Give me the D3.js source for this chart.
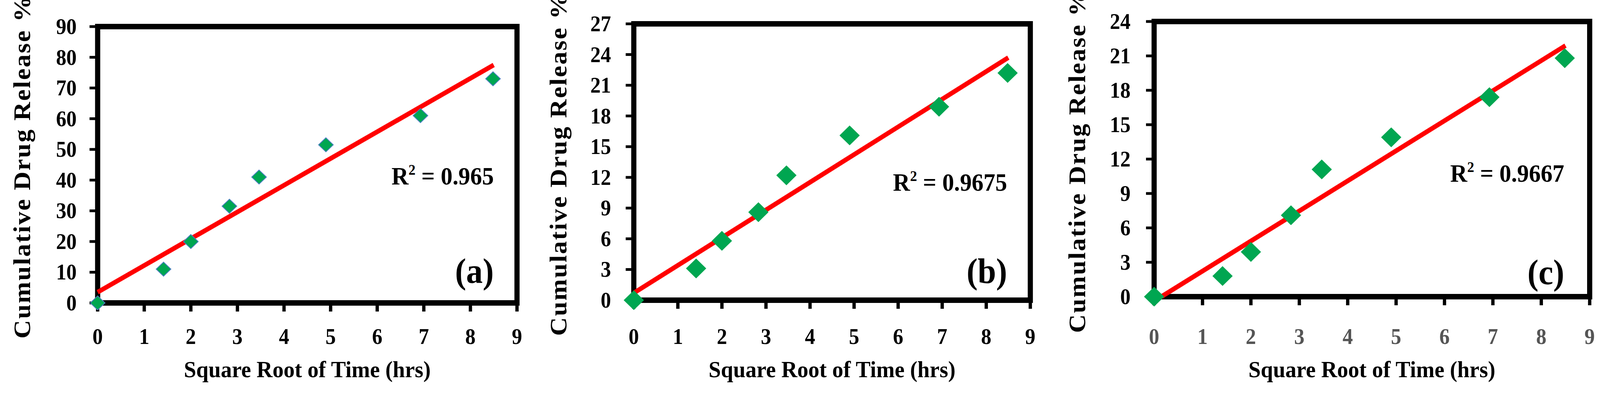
<!DOCTYPE html>
<html><head><meta charset="utf-8">
<script src="https://cdn.jsdelivr.net/npm/d3@7/dist/d3.min.js"></script>
<style>html,body{margin:0;background:#fff;overflow:hidden}svg{display:block;width:100vw;height:100vh}text{font-family:"Liberation Serif","DejaVu Serif",serif;font-weight:bold}</style>
</head><body><svg id="c" viewBox="0 0 4342 1008" preserveAspectRatio="none"></svg>
<script>
const xTicks = [0,1,2,3,4,5,6,7,8,9];
const xValues = [0,1.414,2,2.828,3.464,4.899,6.928,8.485];
const yA = [0,11,20,31.5,41,51.5,61,73];
const yB = [0,3.1,5.8,8.6,12.2,16.1,18.9,22.2];
const yC = [0,1.8,3.9,7.1,11.1,13.9,17.4,20.8];
const fitA = [[0,3.5],[8.5,77.5]];
const fitB = [[0,0.7],[8.5,23.7]];
const fitC = [[0.15,0],[8.5,21.9]];
const ticksA = [0,10,20,30,40,50,60,70,80,90];
const ticksB = [0,3,6,9,12,15,18,21,24,27];
const ticksC = [0,3,6,9,12,15,18,21,24];
const r2 = ["0.965","0.9675","0.9667"];
const tags = ["(a)","(b)","(c)"];

const panels = [
 {L:265,R:1403,T:68,B:775,ymax:90,yt:ticksA,ys:yA,fit:fitA,lab:208,tit:60,r2x:1340,r2y:472,tgy:724,dw:20,dh:18,edge:"#4a7fc0"},
 {L:1720,R:2796,T:61,B:768,ymax:27,yt:ticksB,ys:yB,fit:fitB,lab:1658,tit:1515,r2x:2733,r2y:488,tgy:724,dw:26,dh:24,edge:"#00a651"},
 {L:3132,R:4314,T:55,B:759,ymax:24,yt:ticksC,ys:yC,fit:fitC,lab:3068,tit:2923,r2x:4245,r2y:465,tgy:727,dw:26,dh:24,edge:"#00a651"}
];
const svg = d3.select("#c");
panels.forEach((p,i)=>{
  const g = svg.append("g");
  const x = d3.scaleLinear().domain([0,9]).range([p.L,p.R]);
  const y = d3.scaleLinear().domain([0,p.ymax]).range([p.B,p.T]);
  g.selectAll(".yt").data(p.yt).join("line").attr("x1",p.L-22).attr("x2",p.L).attr("y1",d=>y(d)).attr("y2",d=>y(d)).attr("stroke","#000").attr("stroke-width",7);
  g.selectAll(".xt").data(xTicks).join("line").attr("x1",d=>x(d)).attr("x2",d=>x(d)).attr("y1",p.B).attr("y2",p.B+22).attr("stroke","#000").attr("stroke-width",9);
  g.append("rect").attr("x",p.L).attr("y",p.T).attr("width",p.R-p.L).attr("height",p.B-p.T).attr("fill","none").attr("stroke","#000").attr("stroke-width",14);
  g.selectAll(".yl").data(p.yt).join("text").attr("x",p.lab).attr("y",d=>y(d)+19).attr("text-anchor","end").attr("font-size",56).text(d=>d);
  g.selectAll(".xl").data(xTicks).join("text").attr("x",d=>x(d)).attr("y",880).attr("text-anchor","middle").attr("font-size",56).attr("fill",i==2?"#555":"#000").text(d=>d);
  g.append("text").attr("transform",`translate(${p.tit+22},${(p.T+p.B)/2+5}) rotate(-90)`).attr("text-anchor","middle").attr("font-size",66).attr("letter-spacing",3).text("Cumulative Drug Release %");
  g.append("text").attr("x",(p.L+p.R)/2).attr("y",965).attr("text-anchor","middle").attr("font-size",60).text("Square Root of Time (hrs)");
  g.append("line").attr("x1",x(p.fit[0][0])).attr("y1",y(p.fit[0][1])).attr("x2",x(p.fit[1][0])).attr("y2",y(p.fit[1][1])).attr("stroke","#ff0000").attr("stroke-width",12);
  const pts = xValues.map((v,k)=>[v,p.ys[k]]);
  g.selectAll(".pt").data(pts).join("path")
   .attr("d",d=>{const cx=x(d[0]),cy=y(d[1]);return `M${cx},${cy-p.dh}L${cx+p.dw},${cy}L${cx},${cy+p.dh}L${cx-p.dw},${cy}Z`;})
   .attr("fill","#00a651").attr("stroke",p.edge).attr("stroke-width",2);
  const t = g.append("text").attr("x",p.r2x).attr("y",p.r2y).attr("text-anchor","end").attr("font-size",64).attr("font-weight","normal");
  t.append("tspan").text("R");
  t.append("tspan").attr("font-size",38).attr("dy",-25).text("2");
  t.append("tspan").attr("dy",25).text(" = "+r2[i]);
  g.append("text").attr("x",p.r2x).attr("y",p.tgy).attr("text-anchor","end").attr("font-size",90).text(tags[i]);
});
</script></body></html>
